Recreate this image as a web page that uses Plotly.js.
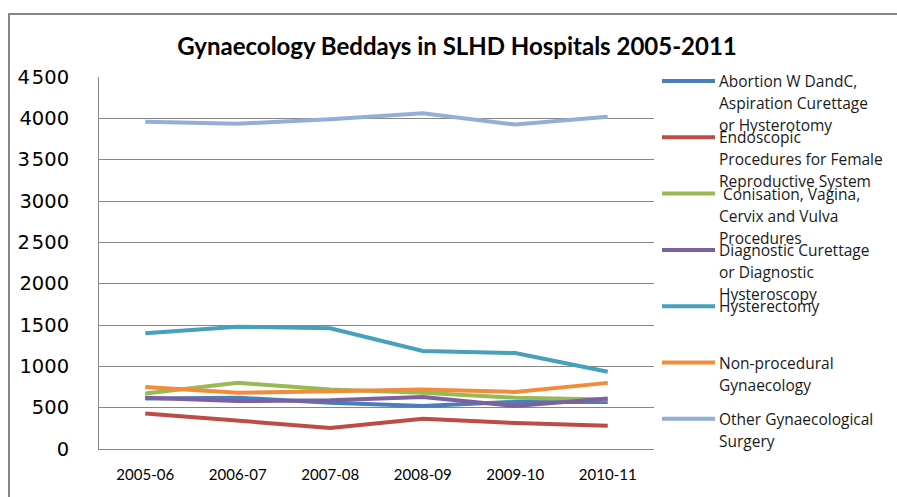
<!DOCTYPE html>
<html>
<head>
<meta charset="utf-8">
<script src="https://cdn.plot.ly/plotly-3.0.1.min.js"></script>
<style>
  html, body { margin: 0; padding: 0; background: #ffffff; }
  #chart {
    position: absolute;
    left: 8px;
    top: 13px;
    width: 887px;
    height: 482px;
    border-left: 2px solid #868686;
    border-top: 2px solid #868686;
  }
</style>
</head>
<body>
<div id="chart"></div>
<script>
const years = ["2005-06", "2006-07", "2007-08", "2008-09", "2009-10", "2010-11"];

const abortion = [610, 620, 560, 520, 570, 570];
const endoscopic = [430, 340, 255, 365, 315, 280];
const conisation = [670, 800, 720, 680, 620, 600];
const diagnostic = [620, 580, 590, 630, 520, 610];
const hysterectomy = [1400, 1480, 1460, 1185, 1160, 935];
const nonProcedural = [750, 680, 700, 720, 690, 800];
const otherSurgery = [3960, 3935, 3990, 4060, 3925, 4020];

const yTickVals = [0, 500, 1000, 1500, 2000, 2500, 3000, 3500, 4000, 4500];
const yTickText = ["0", "500", "1000", "1500", "2000", "2\u200A500", "3000", "3\u200A500", "4000", "4\u200A500"];

const seriesNames = [
  ["Abortion W DandC,", "Aspiration Curettage", "or Hysterotomy"],
  ["Endoscopic", "Procedures for Female", "Reproductive System"],
  [" Conisation, Vagina,", "Cervix and Vulva", "Procedures"],
  ["Diagnostic Curettage", "or Diagnostic", "Hysteroscopy"],
  ["Hysterectomy"],
  ["Non-procedural", "Gynaecology"],
  ["Other Gynaecological", "Surgery"]
];
const seriesValues = [abortion, endoscopic, conisation, diagnostic, hysterectomy, nonProcedural, otherSurgery];
const seriesColors = ["#4A7EBB", "#BE4B48", "#98B954", "#7D60A0", "#46A1BA", "#F08C3A", "#93AFD8"];

const chartEl = document.getElementById("chart");

// plot area on the page, used to place the hand-made legend
const plotLeft = 99, plotRight = 654, plotTop = 77, plotBottom = 449;
function paperX(px) { return (px - plotLeft) / (plotRight - plotLeft); }
function paperY(py) { return (plotBottom - py) / (plotBottom - plotTop); }

const traces = seriesValues.map(function(values, i) {
  return {
    x: years,
    y: values,
    type: "scatter",
    mode: "lines",
    name: seriesNames[i].join(" "),
    showlegend: false,
    line: { color: seriesColors[i], width: 4 },
    hoverinfo: "skip"
  };
});

const shapes = [];
const annotations = [];
seriesNames.forEach(function(lines, i) {
  const rowY = 81 + i * 56.3;
  shapes.push({
    type: "line",
    xref: "paper",
    yref: "paper",
    x0: paperX(662),
    x1: paperX(715),
    y0: paperY(rowY),
    y1: paperY(rowY),
    line: { color: seriesColors[i], width: 4 }
  });
  lines.forEach(function(text, j) {
    annotations.push({
      xref: "paper",
      yref: "paper",
      x: paperX(717),
      y: paperY(rowY + j * 22),
      xanchor: "left",
      yanchor: "middle",
      showarrow: false,
      text: text,
      font: { family: "Open Sans, sans-serif", size: 15.5, color: "#1a1a1a" }
    });
  });
});

const layout = {
  width: 887,
  height: 482,
  paper_bgcolor: "#ffffff",
  plot_bgcolor: "#ffffff",
  margin: { l: 89, r: 243, t: 62, b: 48 },
  showlegend: false,
  title: {
    text: "<b>Gynaecology Beddays in SLHD Hospitals 2005-2011</b>",
    font: { family: "Lato, sans-serif", size: 24, color: "#000000" },
    xref: "container",
    x: 0.504,
    xanchor: "center",
    yref: "container",
    y: 1 - 32 / 482,
    yanchor: "middle"
  },
  xaxis: {
    type: "category",
    range: [-0.5, 5.5],
    showgrid: false,
    showline: true,
    linecolor: "#868686",
    linewidth: 1,
    ticks: "",
    ticklabelstandoff: 12,
    tickfont: { family: "Lato, sans-serif", size: 15, color: "#000000" },
    zeroline: false,
    fixedrange: true
  },
  yaxis: {
    range: [0, 4500],
    tickvals: yTickVals,
    ticktext: yTickText,
    showgrid: true,
    gridcolor: "#868686",
    gridwidth: 1,
    showline: true,
    linecolor: "#868686",
    linewidth: 1,
    ticks: "",
    ticklabelstandoff: 25,
    tickfont: { family: "DejaVu Sans, sans-serif", size: 19.5, color: "#000000" },
    zeroline: false,
    fixedrange: true
  },
  shapes: shapes,
  annotations: annotations
};

Plotly.newPlot(chartEl, traces, layout, { displayModeBar: false, staticPlot: true });
</script>
</body>
</html>
